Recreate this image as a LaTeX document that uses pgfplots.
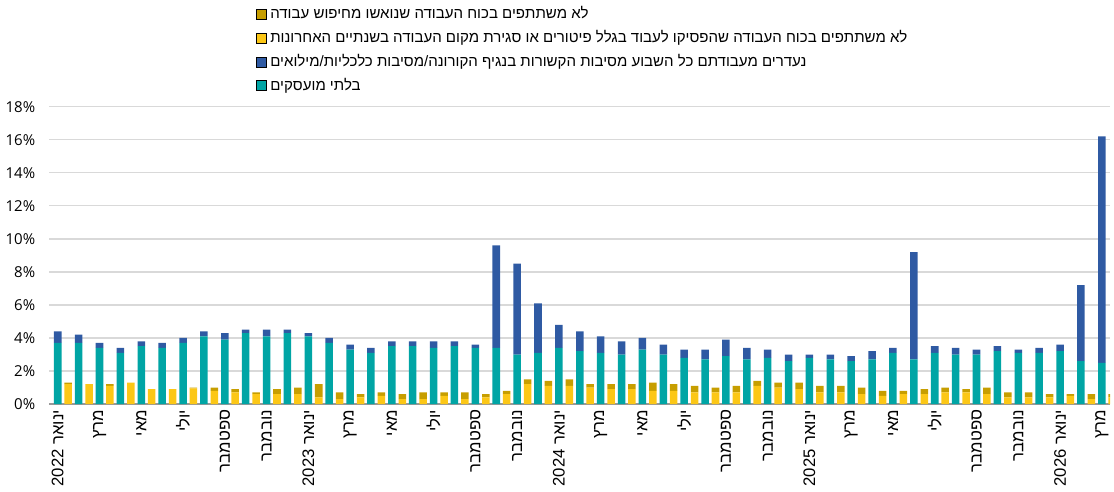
\documentclass[border=0pt]{standalone}
\usepackage{pgfplots}
\pgfplotsset{compat=1.18}
\usepackage{pgfplotstable}
\usepackage{fontspec}
\setmainfont{Open Sans}
\newfontfamily\heb[Script=Hebrew]{Liberation Sans}
\TeXXeTstate=1
\newcommand{\R}[1]{{\heb\beginR #1\endR}}
\definecolor{cteal}{HTML}{00A5A5}
\definecolor{cblue}{HTML}{2F5AA3}
\definecolor{cyel}{HTML}{FCC716}
\definecolor{cgold}{HTML}{C79E00}
\pgfplotstableread{
x teal blue yel gold
1 3.7 0.7 1.2 0.1
2 3.7 0.5 1.2 0.0
3 3.4 0.3 1.1 0.1
4 3.1 0.3 1.3 0.0
5 3.5 0.3 0.9 0.0
6 3.4 0.3 0.9 0.0
7 3.7 0.3 0.95 0.05
8 4.1 0.3 0.8 0.2
9 3.9 0.4 0.7 0.2
10 4.3 0.2 0.6 0.1
11 4.1 0.4 0.6 0.3
12 4.3 0.2 0.6 0.4
13 4.1 0.2 0.4 0.8
14 3.7 0.3 0.3 0.4
15 3.3 0.3 0.4 0.2
16 3.1 0.3 0.5 0.2
17 3.5 0.3 0.3 0.3
18 3.5 0.3 0.3 0.4
19 3.4 0.4 0.5 0.2
20 3.5 0.3 0.3 0.4
21 3.4 0.2 0.4 0.2
22 3.4 6.2 0.6 0.2
23 3.0 5.5 1.2 0.3
24 3.1 3.0 1.1 0.3
25 3.4 1.4 1.1 0.4
26 3.2 1.2 1.0 0.2
27 3.1 1.0 0.9 0.3
28 3.0 0.8 0.9 0.3
29 3.3 0.7 0.8 0.5
30 3.0 0.6 0.8 0.4
31 2.8 0.5 0.7 0.4
32 2.7 0.6 0.7 0.3
33 2.9 1.0 0.7 0.4
34 2.7 0.7 1.1 0.3
35 2.8 0.5 1.0 0.3
36 2.6 0.4 0.9 0.4
37 2.8 0.2 0.7 0.4
38 2.7 0.3 0.7 0.4
39 2.6 0.3 0.6 0.4
40 2.7 0.5 0.5 0.3
41 3.1 0.3 0.6 0.2
42 2.7 6.5 0.6 0.3
43 3.1 0.4 0.7 0.3
44 3.0 0.4 0.7 0.2
45 3.0 0.3 0.6 0.4
46 3.2 0.3 0.4 0.3
47 3.1 0.2 0.4 0.3
48 3.1 0.3 0.4 0.2
49 3.2 0.4 0.5 0.1
50 2.6 4.6 0.3 0.3
51 2.5 13.7 0.4 0.2
}\data
\begin{document}
\begin{tikzpicture}
\pgfplotsset{base/.style={
  scale only axis, width=635pt, height=178pt,
  xmin=0.6, xmax=51.4, ymin=0, ymax=18,
  ybar stacked, bar width=4.5pt,
  clip=true}}
\begin{axis}[base,
  font=\fontsize{9}{11}\selectfont,
  axis x line*=bottom, axis y line*=left,
  y axis line style={draw=none},
  x axis line style={draw=gray!80, line width=1.2pt},
  ytick={0,2,...,18}, ymajorgrids, grid style={gray!30, line width=0.8pt},
  yticklabel={\pgfmathprintnumber{\tick}\%},
  yticklabel style={xshift=-5pt},
  /pgf/number format/assume math mode=true,
  tick style={draw=none},
  xtick={1,3,...,51},
  xticklabels={{\R{ינואר \beginL 2022\endL}},\R{מרץ},\R{מאי},\R{יולי},\R{ספטמבר},\R{נובמבר},
  {\R{ינואר \beginL 2023\endL}},\R{מרץ},\R{מאי},\R{יולי},\R{ספטמבר},\R{נובמבר},
  {\R{ינואר \beginL 2024\endL}},\R{מרץ},\R{מאי},\R{יולי},\R{ספטמבר},\R{נובמבר},
  {\R{ינואר \beginL 2025\endL}},\R{מרץ},\R{מאי},\R{יולי},\R{ספטמבר},\R{נובמבר},
  {\R{ינואר \beginL 2026\endL}},\R{מרץ}},
  xticklabel style={rotate=90, anchor=east, font=\fontsize{10}{12}\selectfont},
]
\addplot[fill=cteal, draw=none] table[x=x, y=teal]{\data};
\addplot[fill=cblue, draw=none] table[x=x, y=blue]{\data};
\end{axis}
\begin{axis}[base, hide axis,
  legend style={at={(0.19,1.36)}, anchor=north west, draw=none, fill=none,
    font=\fontsize{9}{11}\selectfont, row sep=1.5pt},
  legend cell align=left,
  legend image code/.code={\fill[#1] (0pt,-3pt) rectangle (6pt,3pt);},
]
\addplot[fill=cyel, draw=none, forget plot] table[x expr=\thisrow{x}+0.5, y=yel]{\data};
\addplot[fill=cgold, draw=none, forget plot] table[x expr=\thisrow{x}+0.5, y=gold]{\data};
\addlegendimage{fill=cgold}
\addlegendentry{\R{לא משתתפים בכוח העבודה שנואשו מחיפוש עבודה}}
\addlegendimage{fill=cyel}
\addlegendentry{\R{לא משתתפים בכוח העבודה שהפסיקו לעבוד בגלל פיטורים או סגירת מקום העבודה בשנתיים האחרונות}}
\addlegendimage{fill=cblue}
\addlegendentry{\R{נעדרים מעבודתם כל השבוע מסיבות הקשורות בנגיף הקורונה/מסיבות כלכליות/מילואים}}
\addlegendimage{fill=cteal}
\addlegendentry{\R{בלתי מועסקים}}
\end{axis}
\end{tikzpicture}
\end{document}
